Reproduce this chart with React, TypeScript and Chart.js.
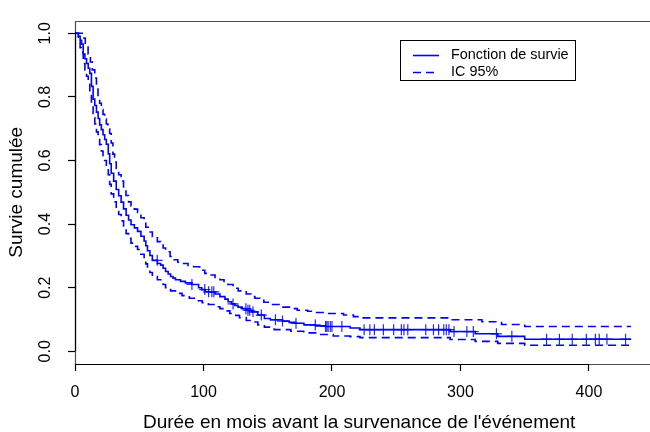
import React, { useEffect, useRef } from "react";
import { Chart, registerables } from "chart.js";

Chart.register(...registerables);

// ---- Data ----
const survTime = [0, 2.6, 4, 5.1, 6.4, 7.7, 9, 10.3, 11.5, 12.8, 14.1, 15.4, 16.7, 18, 19.2, 20.5, 21.8, 23.1, 24.4, 25.9, 27, 28.2, 30.1, 32.1, 34, 35.9, 37.8, 39.8, 41.7, 43.6, 46.2, 48.7, 51.3, 53.8, 55.1, 56.4, 58.3, 60.2, 64.1, 66.7, 68.6, 70.5, 72.5, 74.4, 76.3, 78.2, 82.1, 85.9, 91, 96.2, 98.7, 101.3, 109, 112.8, 116.7, 119.2, 121.8, 124.4, 126.9, 130.1, 133.3, 137.2, 142.3, 147.4, 152, 161.5, 166.7, 171.8, 178.2, 187.2, 194.9, 214.1, 221.8, 292, 311.5, 329, 350, 432.8];
const survProb = [1.0, 0.991, 0.978, 0.966, 0.935, 0.92, 0.905, 0.89, 0.874, 0.833, 0.793, 0.773, 0.752, 0.732, 0.712, 0.697, 0.681, 0.666, 0.651, 0.621, 0.59, 0.56, 0.535, 0.509, 0.489, 0.469, 0.448, 0.428, 0.413, 0.398, 0.388, 0.377, 0.362, 0.347, 0.332, 0.316, 0.301, 0.286, 0.276, 0.271, 0.261, 0.251, 0.243, 0.235, 0.23, 0.225, 0.22, 0.215, 0.21, 0.2, 0.194, 0.187, 0.18, 0.172, 0.164, 0.156, 0.149, 0.144, 0.139, 0.134, 0.129, 0.124, 0.114, 0.103, 0.099, 0.095, 0.091, 0.088, 0.083, 0.08, 0.078, 0.073, 0.068, 0.062, 0.055, 0.047, 0.038, 0.038];

const upperTime = [0, 4, 6.4, 8, 10.2, 12, 13.5, 15.4, 16.7, 17.9, 19.2, 20.5, 21.8, 23.1, 24.4, 25.6, 27, 28.2, 29.5, 30.8, 32.1, 34, 35.9, 37.8, 39.7, 41.7, 43.6, 46.2, 48.7, 51.3, 53.8, 55.1, 57.7, 60.2, 64.1, 66.7, 68.6, 70.5, 74, 77, 80, 83.3, 88, 92.3, 97, 101, 105, 109, 112.8, 116, 119, 123, 127, 133.3, 137, 140, 144, 147, 152, 160, 168, 173, 181, 186, 194, 209, 216.7, 222, 292, 316.7, 332, 350, 432.8];
const upperProb = [1.0, 1.0, 0.985, 0.96, 0.935, 0.91, 0.885, 0.859, 0.83, 0.8, 0.78, 0.76, 0.745, 0.73, 0.715, 0.7, 0.685, 0.655, 0.62, 0.595, 0.575, 0.555, 0.535, 0.51, 0.49, 0.47, 0.457, 0.447, 0.437, 0.42, 0.405, 0.39, 0.375, 0.36, 0.345, 0.337, 0.325, 0.313, 0.298, 0.288, 0.28, 0.276, 0.27, 0.266, 0.255, 0.245, 0.24, 0.232, 0.225, 0.217, 0.21, 0.198, 0.19, 0.18, 0.172, 0.167, 0.16, 0.154, 0.147, 0.139, 0.134, 0.129, 0.126, 0.122, 0.119, 0.114, 0.109, 0.105, 0.099, 0.093, 0.084, 0.078, 0.078];

const lowerTime = [0, 2.6, 4, 5.1, 6.4, 7.7, 9, 10.3, 11.5, 12.8, 14.1, 15.4, 16.7, 18, 19.2, 20.5, 21.8, 23.1, 24.4, 25.9, 27, 28.2, 30.1, 32.1, 34, 35.9, 37.8, 39.8, 41.7, 43.6, 46.2, 48.7, 51.3, 53.8, 55.1, 56.4, 58.3, 60.2, 64.1, 66.7, 68.6, 70.5, 74.4, 78.2, 83.3, 89, 94.8, 99, 103.8, 109, 112.8, 116.7, 120.5, 124.4, 128, 133.3, 137.2, 142.3, 147.4, 155, 168, 178, 188.5, 201, 214.1, 221.8, 292, 311.5, 329, 350, 432.8];
const lowerProb = [1.0, 0.975, 0.955, 0.94, 0.905, 0.885, 0.865, 0.84, 0.815, 0.775, 0.735, 0.715, 0.69, 0.67, 0.65, 0.63, 0.615, 0.6, 0.585, 0.555, 0.525, 0.495, 0.47, 0.45, 0.43, 0.41, 0.39, 0.37, 0.355, 0.34, 0.33, 0.32, 0.305, 0.29, 0.275, 0.26, 0.248, 0.235, 0.225, 0.22, 0.21, 0.2, 0.19, 0.182, 0.175, 0.167, 0.159, 0.153, 0.147, 0.14, 0.134, 0.127, 0.119, 0.113, 0.106, 0.097, 0.092, 0.083, 0.076, 0.068, 0.063, 0.058, 0.053, 0.048, 0.046, 0.043, 0.037, 0.031, 0.025, 0.019, 0.019];

const censorTime = [64, 91, 101, 104, 106.5, 108, 123, 133, 134.6, 136, 138.5, 145, 156, 161.5, 172, 187, 195, 196, 197, 198.7, 200, 207.7, 225, 229.5, 233, 240, 248, 254, 256, 259, 273, 279, 283, 287, 289, 291, 295, 305, 310, 328, 340, 367, 377, 387, 398, 405, 408, 414, 428.5];

const xTicks = [0, 100, 200, 300, 400];
const yTicks = [0, 0.2, 0.4, 0.6, 0.8, 1.0];
const xTitle = "Durée en mois avant la survenance de l'événement";
const yTitle = "Survie cumulée";
const legendLabels = ["Fonction de survie", "IC 95%"];

const X_MIN = 0;
const X_MAX = 442.3;
const Y_MIN = -0.04;
const Y_MAX = 1.04;

const FONT = '"Liberation Sans", Arial, Helvetica, sans-serif';
const BLUE = "#0000ff";
const DASH = [8, 5];
const LW = 1.6;

function toPoints(ts: number[], ps: number[]) {
  return ts.map((t, i) => ({ x: t, y: ps[i] }));
}

function survAt(t: number) {
  let v = survProb[0];
  for (let i = 0; i < survTime.length; i++) {
    if (survTime[i] <= t) v = survProb[i];
  }
  return v;
}

const framePlugin = {
  id: "rFrame",
  afterDraw(chart: any) {
    const { ctx, chartArea } = chart;
    const xs = chart.scales.x;
    const ys = chart.scales.y;
    const L = Math.round(chartArea.left) + 0.5;
    const T = Math.round(chartArea.top) + 0.5;
    const B = Math.round(chartArea.bottom) + 0.5;
    ctx.save();
    // box (right side falls outside the picture)
    ctx.strokeStyle = "rgba(0,0,0,0.7)";
    ctx.lineWidth = 1.2;
    ctx.beginPath();
    ctx.moveTo(chart.width, T);
    ctx.lineTo(L, T);
    ctx.lineTo(L, B);
    ctx.lineTo(chart.width, B);
    ctx.stroke();
    // axis lines spanning first..last tick
    ctx.strokeStyle = "#000";
    ctx.lineWidth = 1.2;
    ctx.beginPath();
    ctx.moveTo(xs.getPixelForValue(xTicks[0]), B);
    ctx.lineTo(xs.getPixelForValue(xTicks[xTicks.length - 1]), B);
    ctx.moveTo(L, ys.getPixelForValue(yTicks[0]));
    ctx.lineTo(L, ys.getPixelForValue(yTicks[yTicks.length - 1]));
    ctx.stroke();

    // legend
    const bx = 400.5, by = 40.5, bw = 175, bh = 40;
    ctx.strokeStyle = "#000";
    ctx.lineWidth = 1;
    ctx.strokeRect(bx, by, bw, bh);
    const y1 = 55.5, y2 = 72.5;
    ctx.strokeStyle = BLUE;
    ctx.lineWidth = LW;
    ctx.beginPath();
    ctx.moveTo(413, y1);
    ctx.lineTo(439, y1);
    ctx.stroke();
    ctx.setLineDash(DASH);
    ctx.beginPath();
    ctx.moveTo(413, y2);
    ctx.lineTo(439, y2);
    ctx.stroke();
    ctx.setLineDash([]);
    ctx.fillStyle = "#000";
    ctx.font = `14.4px ${FONT}`;
    ctx.textAlign = "left";
    ctx.textBaseline = "middle";
    ctx.fillText(legendLabels[0], 451, y1);
    ctx.fillText(legendLabels[1], 451, y2);
    ctx.restore();
  },
};

export default function App() {
  const ref = useRef<HTMLCanvasElement>(null);

  useEffect(() => {
    if (!ref.current) return;
    const chart = new Chart(ref.current, {
      type: "line",
      data: {
        datasets: [
          {
            label: legendLabels[0],
            data: toPoints(survTime, survProb),
            borderColor: BLUE,
            borderWidth: LW,
            stepped: "before",
            pointRadius: 0,
            fill: false,
          },
          {
            label: legendLabels[1],
            data: toPoints(upperTime, upperProb),
            borderColor: BLUE,
            borderWidth: LW,
            borderDash: DASH,
            stepped: "before",
            pointRadius: 0,
            fill: false,
          },
          {
            label: legendLabels[1] + " inf",
            data: toPoints(lowerTime, lowerProb),
            borderColor: BLUE,
            borderWidth: LW,
            borderDash: DASH,
            stepped: "before",
            pointRadius: 0,
            fill: false,
          },
          {
            label: "censure",
            data: censorTime.map((t) => ({ x: t, y: survAt(t) })),
            showLine: false,
            pointStyle: "cross",
            pointRadius: 5.5,
            pointBorderWidth: 1.2,
            pointBorderColor: "rgba(0,0,255,0.85)",
            pointBackgroundColor: "rgba(0,0,255,0.85)",
          },
        ],
      },
      options: {
        animation: false,
        responsive: false,
        events: [],
        layout: { padding: { top: 8, left: 0, right: 0, bottom: 0 } },
        plugins: {
          legend: { display: false },
          tooltip: { enabled: false },
        },
        scales: {
          x: {
            type: "linear",
            min: X_MIN,
            max: X_MAX,
            afterBuildTicks: (s: any) => {
              s.ticks = xTicks.map((v) => ({ value: v }));
            },
            afterFit: (s: any) => {
              s.height = 68;
            },
            grid: {
              drawOnChartArea: false,
              drawTicks: true,
              tickLength: 7,
              tickWidth: 1.2,
              color: "#000",
              tickColor: "#000",
            },
            border: { display: false },
            ticks: {
              autoSkip: false,
              maxRotation: 0,
              minRotation: 0,
              padding: 12,
              color: "#000",
              font: { family: FONT, size: 16 },
              callback: (v: any) => String(v),
            },
            title: {
              display: true,
              text: xTitle,
              color: "#000",
              font: { family: FONT, size: 19, lineHeight: 1 },
              padding: { top: 0, bottom: 0 },
            },
          },
          y: {
            type: "linear",
            min: Y_MIN,
            max: Y_MAX,
            afterBuildTicks: (s: any) => {
              s.ticks = yTicks.map((v) => ({ value: v }));
            },
            afterFit: (s: any) => {
              s.width = 75;
            },
            grid: {
              drawOnChartArea: false,
              drawTicks: true,
              tickLength: 7,
              tickWidth: 1.2,
              color: "#000",
              tickColor: "#000",
            },
            border: { display: false },
            ticks: {
              autoSkip: false,
              minRotation: 90,
              maxRotation: 90,
              crossAlign: "center",
              padding: 11,
              color: "#000",
              font: { family: FONT, size: 16 },
              callback: (v: any) => Number(v).toFixed(1),
            },
            title: {
              display: true,
              text: yTitle,
              color: "#000",
              font: { family: FONT, size: 19, lineHeight: 1 },
              padding: { top: 7, bottom: 0 },
            },
          },
        },
      },
      plugins: [framePlugin],
    } as any);
    return () => chart.destroy();
  }, []);

  return (
    <div style={{ position: "absolute", left: 0, top: 0, width: 650, height: 432, background: "#fff" }}>
      <canvas ref={ref} width={650} height={432} style={{ display: "block" }} />
    </div>
  );
}
